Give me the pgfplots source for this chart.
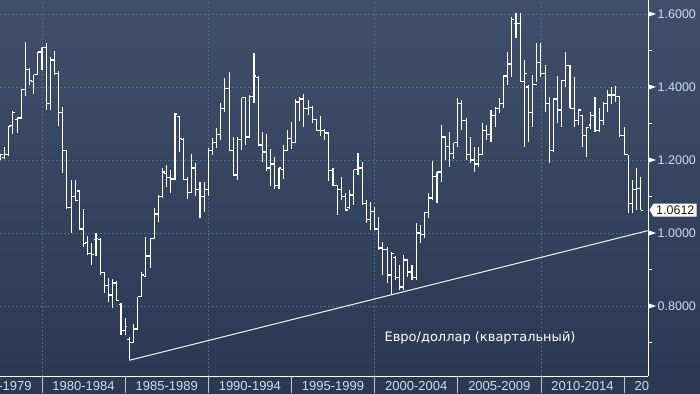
\documentclass[border=0pt]{standalone}
\usepackage{pgfplots}
\pgfplotsset{compat=1.18}
\usepackage{pgfplotstable}
\usepackage{fontspec}
\setmainfont{Liberation Sans}
\newfontfamily\dejavu{DejaVu Sans}
\definecolor{bgtop}{RGB}{64,79,105}
\definecolor{bgbot}{RGB}{43,55,83}
\definecolor{gridc}{RGB}{75,112,140}
\definecolor{lblc}{RGB}{200,222,245}
\definecolor{sepc}{RGB}{190,200,215}
\definecolor{pmtext}{RGB}{30,30,40}
\pgfdeclareplotmark{otick}{\pgfpathmoveto{\pgfqpoint{-2.3pt}{0pt}}\pgfpathlineto{\pgfqpoint{0pt}{0pt}}\pgfusepathqstroke}
\pgfdeclareplotmark{ctick}{\pgfpathmoveto{\pgfqpoint{0pt}{0pt}}\pgfpathlineto{\pgfqpoint{2.3pt}{0pt}}\pgfusepathqstroke}
\pgfdeclareplotmark{nomark}{}

\pgfplotstableread{
t O H L C
1977.50 1.203 1.217 1.200 1.216
1977.75 1.208 1.236 1.203 1.214
1978.00 1.214 1.293 1.210 1.293
1978.25 1.295 1.334 1.271 1.330
1978.50 1.310 1.318 1.274 1.315
1978.75 1.315 1.392 1.313 1.392
1979.00 1.392 1.523 1.375 1.449
1979.25 1.449 1.452 1.405 1.419
1979.50 1.414 1.433 1.381 1.433
1979.75 1.433 1.496 1.433 1.496
1980.00 1.496 1.510 1.447 1.507
1980.25 1.507 1.521 1.337 1.354
1980.50 1.354 1.482 1.337 1.474
1980.75 1.474 1.499 1.433 1.436
1981.00 1.436 1.444 1.293 1.329
1981.25 1.329 1.345 1.164 1.225
1981.50 1.225 1.228 1.066 1.069
1981.75 1.069 1.145 1.000 1.101
1982.00 1.101 1.145 1.090 1.090
1982.25 1.115 1.118 1.011 1.011
1982.50 1.011 1.066 0.962 0.970
1982.75 0.973 0.992 0.940 0.943
1983.00 0.943 0.973 0.912 0.940
1983.25 0.981 1.000 0.937 0.986
1983.50 0.981 0.986 0.885 0.891
1983.75 0.891 0.893 0.836 0.855
1984.00 0.855 0.877 0.811 0.830
1984.25 0.830 0.874 0.795 0.863
1984.50 0.863 0.869 0.814 0.814
1984.75 0.805 0.808 0.721 0.734
1985.00 0.734 0.767 0.721 0.743
1985.25 0.707 0.715 0.652 0.700
1985.50 0.700 0.751 0.699 0.737
1985.75 0.737 0.825 0.737 0.825
1986.00 0.825 0.893 0.825 0.885
1986.25 0.880 0.989 0.880 0.937
1986.50 0.937 0.986 0.904 0.984
1986.75 0.984 1.069 0.984 1.052
1987.00 1.052 1.104 1.030 1.101
1987.25 1.101 1.178 1.096 1.167
1987.50 1.164 1.186 1.126 1.151
1987.75 1.151 1.173 1.110 1.148
1988.00 1.148 1.329 1.145 1.326
1988.25 1.320 1.320 1.222 1.260
1988.50 1.255 1.260 1.145 1.147
1988.75 1.147 1.154 1.093 1.110
1989.00 1.110 1.217 1.110 1.178
1989.25 1.178 1.192 1.101 1.118
1989.50 1.118 1.140 1.041 1.099
1989.75 1.099 1.140 1.058 1.118
1990.00 1.118 1.233 1.101 1.227
1990.25 1.227 1.260 1.214 1.247
1990.50 1.247 1.288 1.233 1.269
1990.75 1.269 1.356 1.255 1.340
1991.00 1.340 1.425 1.332 1.397
1991.25 1.397 1.441 1.227 1.227
1991.50 1.227 1.263 1.159 1.159
1991.75 1.159 1.263 1.145 1.255
1992.00 1.255 1.370 1.227 1.370
1992.25 1.370 1.373 1.241 1.263
1992.50 1.263 1.378 1.260 1.375
1992.75 1.375 1.493 1.356 1.430
1993.00 1.425 1.430 1.241 1.241
1993.25 1.241 1.277 1.195 1.222
1993.50 1.222 1.271 1.170 1.178
1993.75 1.178 1.230 1.129 1.189
1994.00 1.189 1.208 1.121 1.129
1994.25 1.129 1.178 1.121 1.178
1994.50 1.173 1.241 1.148 1.225
1994.75 1.225 1.282 1.225 1.260
1995.00 1.260 1.304 1.230 1.247
1995.25 1.247 1.367 1.247 1.359
1995.50 1.359 1.373 1.307 1.367
1995.75 1.367 1.381 1.291 1.342
1996.00 1.342 1.364 1.323 1.345
1996.25 1.345 1.348 1.301 1.310
1996.50 1.310 1.312 1.282 1.282
1996.75 1.282 1.321 1.266 1.282
1997.00 1.282 1.285 1.255 1.274
1997.25 1.274 1.278 1.143 1.170
1997.50 1.170 1.178 1.129 1.129
1997.75 1.129 1.132 1.049 1.118
1998.00 1.118 1.154 1.090 1.099
1998.25 1.099 1.110 1.060 1.063
1998.50 1.070 1.118 1.066 1.104
1998.75 1.104 1.173 1.077 1.173
1999.00 1.173 1.219 1.159 1.178
1999.25 1.178 1.195 1.077 1.080
1999.50 1.080 1.090 1.027 1.038
1999.75 1.038 1.085 1.008 1.058
2000.00 1.058 1.071 1.008 1.011
2000.25 1.011 1.044 0.954 0.959
2000.50 0.959 0.975 0.885 0.956
2000.75 0.956 0.962 0.863 0.885
2001.00 0.885 0.948 0.830 0.945
2001.25 0.934 0.938 0.871 0.877
2001.50 0.877 0.912 0.844 0.852
2001.75 0.852 0.940 0.844 0.926
2002.00 0.926 0.930 0.880 0.893
2002.25 0.893 0.912 0.871 0.877
2002.50 0.877 1.027 0.871 1.000
2002.75 1.000 1.022 0.973 0.995
2003.00 0.995 1.055 0.986 1.055
2003.25 1.055 1.110 1.041 1.096
2003.50 1.096 1.197 1.090 1.154
2003.75 1.154 1.167 1.082 1.167
2004.00 1.167 1.296 1.140 1.263
2004.25 1.263 1.265 1.200 1.236
2004.50 1.236 1.277 1.181 1.219
2004.75 1.219 1.247 1.203 1.247
2005.00 1.247 1.370 1.235 1.356
2005.25 1.356 1.365 1.282 1.307
2005.50 1.307 1.315 1.200 1.214
2005.75 1.214 1.263 1.192 1.200
2006.00 1.200 1.236 1.167 1.189
2006.25 1.189 1.236 1.181 1.214
2006.50 1.214 1.301 1.214 1.282
2006.75 1.282 1.296 1.255 1.269
2007.00 1.269 1.337 1.249 1.323
2007.25 1.323 1.345 1.291 1.342
2007.50 1.342 1.370 1.329 1.356
2007.75 1.356 1.432 1.342 1.430
2008.00 1.430 1.496 1.406 1.463
2008.25 1.463 1.592 1.427 1.584
2008.50 1.575 1.603 1.534 1.575
2008.75 1.575 1.603 1.414 1.414
2009.00 1.414 1.474 1.236 1.438
2009.25 1.400 1.406 1.249 1.329
2009.50 1.329 1.433 1.291 1.406
2009.75 1.406 1.521 1.414 1.466
2010.00 1.466 1.521 1.427 1.436
2010.25 1.436 1.460 1.332 1.354
2010.50 1.354 1.373 1.192 1.225
2010.75 1.225 1.370 1.222 1.367
2011.00 1.367 1.430 1.301 1.337
2011.25 1.337 1.419 1.290 1.419
2011.50 1.419 1.496 1.400 1.458
2011.75 1.458 1.460 1.342 1.342
2012.00 1.342 1.427 1.290 1.307
2012.25 1.307 1.337 1.296 1.337
2012.50 1.323 1.323 1.236 1.266
2012.75 1.266 1.291 1.208 1.288
2013.00 1.296 1.332 1.285 1.323
2013.25 1.323 1.373 1.277 1.282
2013.50 1.282 1.343 1.277 1.307
2013.75 1.307 1.359 1.296 1.356
2014.00 1.356 1.392 1.332 1.378
2014.25 1.378 1.400 1.354 1.378
2014.50 1.378 1.403 1.359 1.373
2014.75 1.373 1.373 1.263 1.266
2015.00 1.266 1.291 1.214 1.214
2015.25 1.214 1.214 1.055 1.082
2015.50 1.082 1.145 1.055 1.118
2015.75 1.118 1.178 1.063 1.121
2016.00 1.121 1.154 1.063 1.0612
}\ohlc

\begin{document}
\begin{tikzpicture}
\useasboundingbox (0,0) rectangle (700pt,393pt);
\clip (0,0) rectangle (700pt,393pt);
\shade[top color=bgtop, bottom color=bgbot] (0,0) rectangle (700pt,393pt);
\begin{scope}
\clip (0,0) -- (648pt,0) -- (648pt,17pt) -- (700pt,17pt) -- (700pt,393pt) -- (0,393pt) -- cycle;
\begin{axis}[
  at={(0pt,17pt)}, anchor=south west,
  width=648pt, height=376pt, scale only axis,
  xmin=1977.4745, xmax=2016.44, ymin=0.6082, ymax=1.63836,
  clip=false,
  axis x line*=bottom, axis y line*=right,
  axis line style={draw=white, line width=0.9pt, -},
  tick align=outside,
  major tick length=17pt,
  xtick={1980,1985,1990,1995,2000,2005,2010,2015},
  xticklabels={},
  major x tick style={draw=sepc, line width=0.8pt},
  extra x ticks={1980,1990,2000,2010},
  extra x tick labels={},
  extra x tick style={grid=major, major tick length=0pt, major x tick style={draw=none}},
  ytick={0.8,1.0,1.2,1.4,1.6},
  major y tick style={draw=none},
  ymajorgrids=true,
  major grid style={draw=gridc, dash pattern=on 2pt off 2pt, line width=0.7pt},
  scaled y ticks=false,
  yticklabel style={/pgf/number format/.cd, fixed, fixed zerofill, precision=4, assume math mode=true, /tikz/.cd,
    font=\fontsize{12.5}{14}\selectfont, text=lblc, anchor=west, inner sep=0pt, xshift=-7.5pt},
]
\addplot[only marks, mark=nomark, forget plot,
  error bars/.cd, y dir=plus, y explicit, error mark=none,
  error bar style={draw=white, line width=1.1pt, solid}]
  table[x=t, y=L, y error plus expr=\thisrow{H}-\thisrow{L}] {\ohlc};
\addplot[only marks, mark=otick, mark options={draw=white, line width=1.1pt, solid}, forget plot]
  table[x=t, y=O] {\ohlc};
\addplot[only marks, mark=ctick, mark options={draw=white, line width=1.1pt, solid}, forget plot]
  table[x=t, y=C] {\ohlc};
\addplot[color=white!88!gray, line width=1pt, forget plot] coordinates {(1985.25,0.6512) (2016.42,1.0063)};
\node[font=\dejavu\fontsize{13}{15}\selectfont, text=white] at (axis cs:2006.34,0.7124) {Евро/доллар (квартальный)};
\pgfplotsinvokeforeach{0.8,1.0,1.2,1.4,1.6}{
  \fill[white] ([yshift=2.8pt]axis cs:2016.44,#1) -- ([xshift=8pt]axis cs:2016.44,#1) -- ([yshift=-2.8pt]axis cs:2016.44,#1) -- cycle;
}
\pgfplotsinvokeforeach{0.7,0.9,1.1,1.3,1.5}{
  \draw[white, line width=0.9pt] (axis cs:2016.44,#1) -- ([xshift=3.5pt]axis cs:2016.44,#1);
}
\tikzset{xlab/.style={anchor=base, yshift=-14pt, font=\fontsize{13}{15}\selectfont, text=lblc}}
\node[xlab] at (axis cs:1977.5,0.6082) {1975-1979};
\node[xlab] at (axis cs:1982.5,0.6082) {1980-1984};
\node[xlab] at (axis cs:1987.5,0.6082) {1985-1989};
\node[xlab] at (axis cs:1992.5,0.6082) {1990-1994};
\node[xlab] at (axis cs:1997.5,0.6082) {1995-1999};
\node[xlab] at (axis cs:2002.5,0.6082) {2000-2004};
\node[xlab] at (axis cs:2007.5,0.6082) {2005-2009};
\node[xlab] at (axis cs:2012.5,0.6082) {2010-2014};
\node[xlab] at (axis cs:2017.5,0.6082) {2015-2019};
\coordinate (pm) at (axis cs:2016.44,1.0612);
\end{axis}
\end{scope}
\fill[white!97!yellow] ([xshift=1.5pt,yshift=0.8pt]pm) -- ++(4pt,6.2pt) -- ++(43pt,0) -- ++(0,-13pt) -- ++(-43pt,0) -- cycle;
\node[anchor=base west, inner sep=0pt, font=\fontsize{12.5}{14}\selectfont, text=pmtext] at ([xshift=8pt,yshift=-3.6pt]pm) {1.0612};
\end{tikzpicture}
\end{document}
